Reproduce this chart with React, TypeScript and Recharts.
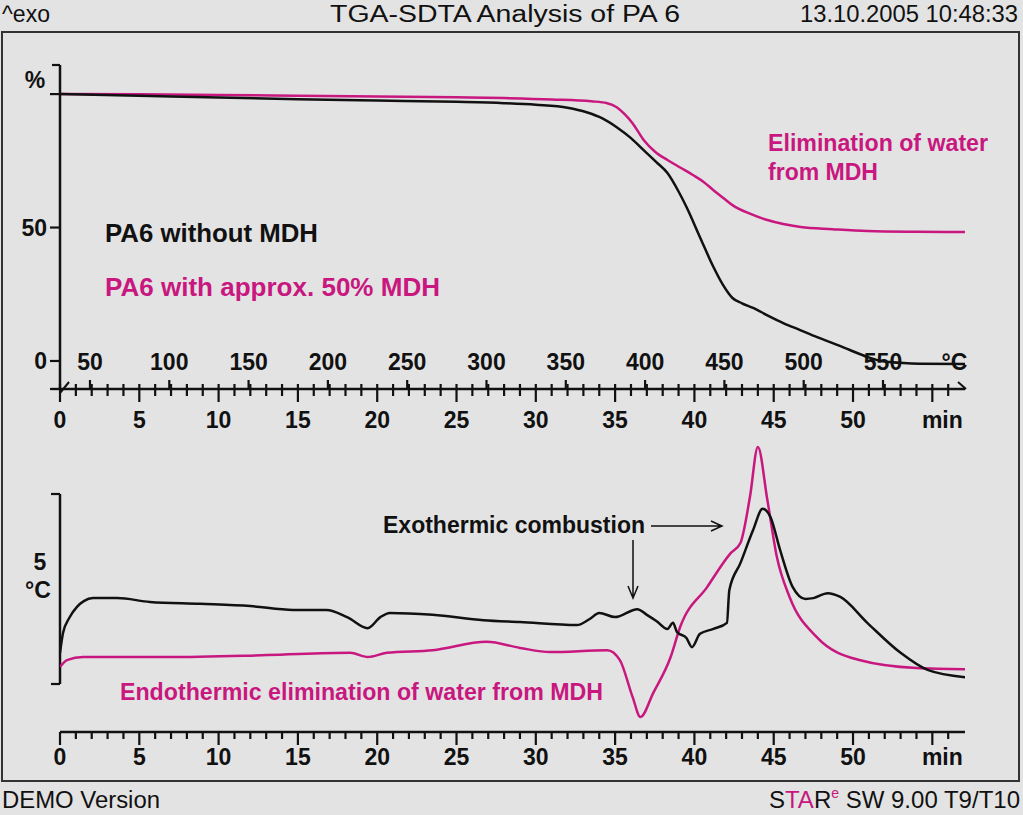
import { LineChart, Line, XAxis, YAxis, ReferenceDot, ReferenceLine } from "recharts"

const INK = "#111111"
const MAGENTA = "#c8177f"
const BG = "#e3e3e3"
const FONT = "'Liberation Sans', Arial, Helvetica, sans-serif"

// ─── Axes ───────────────────────────────────────────────────────────────────

const TIME_END = 57.06 // min, right end of both time axes
const minuteTicks = Array.from({ length: 57 }, (_, i) => i)
const timeLabels = [0, 5, 10, 15, 20, 25, 30, 35, 40, 45, 50]
const TIME_UNIT_AT = 55

const TEMP_START = 31.1 // °C at 0 min
const HEATING_RATE = 10 // K/min
const tempLabels = [50, 100, 150, 200, 250, 300, 350, 400, 450, 500, 550]
const TEMP_UNIT_AT = 595

const WEIGHT_MIN = -10.5
const WEIGHT_MAX = 110.9
const weightTicks = [WEIGHT_MIN, 0, 50, 100, WEIGHT_MAX]
const weightLabels = [0, 50]

const SDTA_MIN = -1.263
const SDTA_MAX = 6.421
const sdtaScaleBar = [0, 5] // the "5 °C" bracket

// sample temperature -> time on the shared axis
const tempToTime = (T: number) => (T - TEMP_START) / HEATING_RATE

// ─── Data (t in min) ────────────────────────────────────────────────────────

// TGA, weight in %
const tgaPlain = [
  { t: 0, v: 100 }, { t: 5, v: 99.4 }, { t: 10, v: 98.7 }, { t: 15, v: 98.1 },
  { t: 20, v: 97.6 }, { t: 25, v: 97.1 }, { t: 28, v: 96.6 }, { t: 30, v: 96.0 },
  { t: 32, v: 94.9 }, { t: 33.2, v: 93.2 }, { t: 34.2, v: 90.9 }, { t: 35.1, v: 87.6 },
  { t: 36, v: 83.5 }, { t: 36.8, v: 79.0 }, { t: 37.6, v: 74.5 }, { t: 38.3, v: 70.4 },
  { t: 39, v: 63.5 }, { t: 39.5, v: 57.7 }, { t: 40.35, v: 46.4 }, { t: 41.2, v: 35.2 },
  { t: 41.8, v: 28.5 }, { t: 42.4, v: 23.6 }, { t: 43, v: 21.6 }, { t: 43.7, v: 19.9 },
  { t: 44.6, v: 17.1 }, { t: 45.6, v: 14.2 }, { t: 46.7, v: 11.5 }, { t: 47.7, v: 9.0 },
  { t: 48.8, v: 6.5 }, { t: 49.8, v: 4.1 }, { t: 50.9, v: 1.5 }, { t: 51.6, v: 0.2 },
  { t: 52.3, v: -0.4 }, { t: 54.2, v: -1.0 }, { t: 57.06, v: -1.1 },
]

const tgaMdh = [
  { t: 0, v: 100 }, { t: 5, v: 99.9 }, { t: 10, v: 99.7 }, { t: 15, v: 99.4 },
  { t: 20, v: 99.1 }, { t: 25, v: 98.8 }, { t: 28, v: 98.5 }, { t: 31, v: 98.0 },
  { t: 33.5, v: 97.3 }, { t: 34.5, v: 96.6 }, { t: 35.1, v: 95.1 }, { t: 35.6, v: 92.5 },
  { t: 36.1, v: 89.1 }, { t: 36.8, v: 82.8 }, { t: 37.5, v: 78.5 }, { t: 38.3, v: 75.3 },
  { t: 39.1, v: 72.5 }, { t: 39.9, v: 69.7 }, { t: 40.6, v: 67.0 }, { t: 41.2, v: 64.0 },
  { t: 41.8, v: 61.2 }, { t: 42.4, v: 58.4 }, { t: 43.5, v: 55.2 }, { t: 44.6, v: 52.8 },
  { t: 45.6, v: 51.3 }, { t: 46.7, v: 50.2 }, { t: 48.7, v: 49.4 }, { t: 50.9, v: 48.7 },
  { t: 54, v: 48.4 }, { t: 57.06, v: 48.3 },
]

// SDTA, temperature difference in °C
const sdtaPlain = [
  { t: 0, v: 0.82 }, { t: 0.19, v: 1.34 }, { t: 0.6, v: 1.75 }, { t: 1.07, v: 2.03 },
  { t: 1.5, v: 2.18 }, { t: 2.08, v: 2.26 }, { t: 3.6, v: 2.26 }, { t: 5.67, v: 2.16 },
  { t: 8.83, v: 2.11 }, { t: 12, v: 2.05 }, { t: 14.7, v: 1.95 }, { t: 16.8, v: 1.95 },
  { t: 18.1, v: 1.76 }, { t: 19.4, v: 1.47 }, { t: 20.2, v: 1.76 }, { t: 20.8, v: 1.87 },
  { t: 23.5, v: 1.82 }, { t: 26.7, v: 1.68 }, { t: 29, v: 1.63 }, { t: 32.6, v: 1.55 },
  { t: 33.4, v: 1.71 }, { t: 34, v: 1.87 }, { t: 35, v: 1.76 }, { t: 36.4, v: 1.97 },
  { t: 37, v: 1.82 }, { t: 37.6, v: 1.66 }, { t: 38.3, v: 1.45 }, { t: 38.65, v: 1.61 },
  { t: 38.9, v: 1.37 }, { t: 39.5, v: 1.21 }, { t: 39.85, v: 0.97 }, { t: 40.35, v: 1.32 },
  { t: 41.2, v: 1.45 }, { t: 42.05, v: 1.61 }, { t: 42.2, v: 2.47 }, { t: 42.9, v: 3.18 },
  { t: 43.7, v: 4.05 }, { t: 44.3, v: 4.61 }, { t: 44.8, v: 4.39 }, { t: 45.4, v: 3.53 },
  { t: 46.2, v: 2.55 }, { t: 47, v: 2.24 }, { t: 47.5, v: 2.26 }, { t: 48.4, v: 2.39 },
  { t: 49.2, v: 2.29 }, { t: 50.9, v: 1.61 }, { t: 53, v: 0.82 }, { t: 54.7, v: 0.37 },
  { t: 57.06, v: 0.18 },
]

const sdtaMdh = [
  { t: 0, v: 0.45 }, { t: 0.44, v: 0.63 }, { t: 1.45, v: 0.71 }, { t: 6.75, v: 0.71 },
  { t: 13.05, v: 0.76 }, { t: 18.3, v: 0.82 }, { t: 19.4, v: 0.71 }, { t: 20.6, v: 0.82 },
  { t: 23.5, v: 0.89 }, { t: 26.9, v: 1.11 }, { t: 29, v: 0.95 }, { t: 30.9, v: 0.84 },
  { t: 34.5, v: 0.89 }, { t: 35.3, v: 0.63 }, { t: 36.1, v: -0.34 }, { t: 36.6, v: -0.87 },
  { t: 37.4, v: -0.24 }, { t: 38.5, v: 0.71 }, { t: 39.1, v: 1.5 }, { t: 40.8, v: 2.55 },
  { t: 42.3, v: 3.45 }, { t: 42.9, v: 3.71 }, { t: 43.5, v: 4.92 }, { t: 44, v: 6.24 },
  { t: 44.6, v: 4.84 }, { t: 45.2, v: 3.34 }, { t: 46, v: 2.29 }, { t: 47.7, v: 1.24 },
  { t: 50.4, v: 0.63 }, { t: 54, v: 0.42 }, { t: 57.06, v: 0.39 },
]

// ─── Ticks ──────────────────────────────────────────────────────────────────

const labelStyle = { fontFamily: FONT, fontSize: 23, fontWeight: 700, fill: INK }

function TimeTick(props: any) {
  const { x, y, payload, crossing } = props
  const v = payload.value as number
  const major = v % 5 === 0
  const label = v === TIME_UNIT_AT ? "min" : timeLabels.includes(v) ? String(v) : null
  return (
    <g>
      <line
        x1={x}
        x2={x}
        y1={y - (crossing ? 5 : 0)}
        y2={y + (major ? 13 : 7)}
        stroke={INK}
        strokeWidth={2.2}
      />
      {label && (
        <text
          x={x + (label === "min" ? 10 : 0)}
          y={y + (crossing ? 39 : 33)}
          textAnchor="middle"
          style={labelStyle}
        >
          {label}
        </text>
      )}
    </g>
  )
}

function WeightTick(props: any) {
  const { x, y, payload } = props
  const v = payload.value as number
  const len = v === WEIGHT_MIN || v === WEIGHT_MAX ? 8 : 10
  return (
    <g>
      <line x1={x - len} x2={x} y1={y} y2={y} stroke={INK} strokeWidth={2.2} />
      {weightLabels.includes(v) && (
        <text x={x - 13} y={y + 8} textAnchor="end" style={labelStyle}>
          {v}
        </text>
      )}
      {v === 100 && (
        <text x={x - 25} y={y - 6} textAnchor="middle" style={labelStyle}>
          %
        </text>
      )}
    </g>
  )
}

function ScaleTick(props: any) {
  const { x, y } = props
  return <line x1={x - 9} x2={x} y1={y} y2={y} stroke={INK} strokeWidth={2.2} />
}

function tempMark(label: string, withTick: boolean) {
  return (props: any) => {
    const { cx, cy } = props
    return (
      <g>
        {withTick && <line x1={cx} x2={cx} y1={cy - 9} y2={cy} stroke={INK} strokeWidth={2.2} />}
        <text x={cx} y={cy - 19} textAnchor="middle" style={labelStyle}>
          {label}
        </text>
      </g>
    )
  }
}

// ─── Page ───────────────────────────────────────────────────────────────────

const PLOT_MARGIN_RIGHT = 58

export default function App() {
  return (
    <div
      style={{
        position: "fixed",
        left: 0,
        top: 0,
        width: 1023,
        height: 815,
        background: BG,
        overflow: "hidden",
      }}
    >
      {/* TGA */}
      <div style={{ position: "absolute", left: 0, top: 0 }}>
        <LineChart width={1023} height={440} margin={{ top: 65, right: PLOT_MARGIN_RIGHT, bottom: 1, left: 0 }}>
          <XAxis
            type="number"
            dataKey="t"
            domain={[0, TIME_END]}
            allowDataOverflow
            ticks={minuteTicks}
            interval={0}
            tickSize={0}
            tickMargin={0}
            tickLine={false}
            height={50}
            stroke={INK}
            strokeWidth={2.5}
            tick={(p: any) => <TimeTick {...p} crossing />}
          />
          <YAxis
            type="number"
            domain={[WEIGHT_MIN, WEIGHT_MAX]}
            allowDataOverflow
            ticks={weightTicks}
            interval={0}
            width={60}
            tickSize={0}
            tickMargin={0}
            tickLine={false}
            stroke={INK}
            strokeWidth={2.5}
            tick={(p: any) => <WeightTick {...p} />}
          />
          {tempLabels.map((T) => (
            <ReferenceDot
              key={T}
              x={tempToTime(T)}
              y={WEIGHT_MIN}
              r={0}
              ifOverflow="visible"
              shape={tempMark(String(T), true)}
            />
          ))}
          <ReferenceDot
            x={tempToTime(TEMP_UNIT_AT)}
            y={WEIGHT_MIN}
            r={0}
            ifOverflow="visible"
            shape={tempMark("°C", false)}
          />
          <Line data={tgaMdh} dataKey="v" type="monotone" stroke={MAGENTA} strokeWidth={2.5} dot={false} isAnimationActive={false} />
          <Line data={tgaPlain} dataKey="v" type="monotone" stroke={INK} strokeWidth={2.5} dot={false} isAnimationActive={false} />
        </LineChart>
      </div>

      {/* SDTA */}
      <div style={{ position: "absolute", left: 0, top: 430 }}>
        <LineChart width={1023} height={385} margin={{ top: 10, right: PLOT_MARGIN_RIGHT, bottom: 33, left: 0 }}>
          <XAxis
            type="number"
            dataKey="t"
            domain={[0, TIME_END]}
            allowDataOverflow
            ticks={minuteTicks}
            interval={0}
            tickSize={0}
            tickMargin={0}
            tickLine={false}
            height={50}
            stroke={INK}
            strokeWidth={2.5}
            tick={(p: any) => <TimeTick {...p} />}
          />
          <YAxis
            type="number"
            domain={[SDTA_MIN, SDTA_MAX]}
            allowDataOverflow
            ticks={sdtaScaleBar}
            interval={0}
            width={60}
            tickSize={0}
            tickMargin={0}
            tickLine={false}
            axisLine={false}
            tick={(p: any) => <ScaleTick {...p} />}
          />
          <ReferenceLine
            segment={[
              { x: 0, y: sdtaScaleBar[0] },
              { x: 0, y: sdtaScaleBar[1] },
            ]}
            stroke={INK}
            strokeWidth={2.5}
            ifOverflow="visible"
          />
          <Line data={sdtaMdh} dataKey="v" type="monotone" stroke={MAGENTA} strokeWidth={2.5} dot={false} isAnimationActive={false} />
          <Line data={sdtaPlain} dataKey="v" type="monotone" stroke={INK} strokeWidth={2.5} dot={false} isAnimationActive={false} />
        </LineChart>
      </div>

      {/* frame, header, footer and annotations */}
      <svg
        width={1023}
        height={815}
        style={{ position: "absolute", left: 0, top: 0, pointerEvents: "none" }}
        fontFamily={FONT}
      >
        <rect x={2} y={32} width={1017} height={749} fill="none" stroke="#333" strokeWidth={2} />

        <g fontSize={23} fill={INK}>
          <text x={2} y={22} textLength={48} lengthAdjust="spacingAndGlyphs">^exo</text>
          <text x={330} y={22} textLength={350} lengthAdjust="spacingAndGlyphs">TGA-SDTA Analysis of PA 6</text>
          <text x={800} y={22} textLength={218} lengthAdjust="spacingAndGlyphs">13.10.2005 10:48:33</text>
          <text x={2} y={808} textLength={158} lengthAdjust="spacingAndGlyphs">DEMO Version</text>
          <text x={1020} y={808} textAnchor="end" fontSize={24}>
            <tspan>S</tspan>
            <tspan fill={MAGENTA}>TA</tspan>
            <tspan>R</tspan>
            <tspan fill={MAGENTA} fontSize={14} dy={-10}>e</tspan>
            <tspan dy={10}> SW 9.00 T9/T10</tspan>
          </text>
        </g>

        {/* axis break / end marks */}
        <line x1={60} y1={393} x2={69} y2={382} stroke={INK} strokeWidth={2} />
        <line x1={50} y1={389} x2={60} y2={389} stroke={INK} strokeWidth={2.2} />
        <path d="M958 382 L966 389" stroke={INK} strokeWidth={2} fill="none" />

        <g fontWeight={700} fontSize={23}>
          <text x={768} y={151} fill={MAGENTA} textLength={220} lengthAdjust="spacingAndGlyphs">Elimination of water</text>
          <text x={768} y={180} fill={MAGENTA} textLength={110} lengthAdjust="spacingAndGlyphs">from MDH</text>
          <text x={105} y={242} fill={INK} fontSize={25} textLength={213} lengthAdjust="spacingAndGlyphs">PA6 without MDH</text>
          <text x={105} y={296} fill={MAGENTA} fontSize={25} textLength={335} lengthAdjust="spacingAndGlyphs">PA6 with approx. 50% MDH</text>
          <text x={383} y={533} fill={INK} textLength={262} lengthAdjust="spacingAndGlyphs">Exothermic combustion</text>
          <text x={120} y={700} fill={MAGENTA} textLength={483} lengthAdjust="spacingAndGlyphs">Endothermic elimination of water from MDH</text>
          <text x={40} y={570} fill={INK} textAnchor="middle">5</text>
          <text x={38} y={598} fill={INK} textAnchor="middle">°C</text>
        </g>

        <g stroke={INK} strokeWidth={1.5} fill="none">
          <path d="M651 526 L722 526 M711 521 L722 526 L711 531" />
          <path d="M633 540 L633 598 M628 586 L633 598 L638 586" />
        </g>
      </svg>
    </div>
  )
}
